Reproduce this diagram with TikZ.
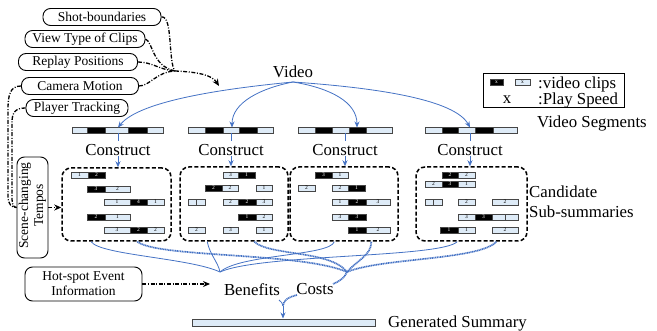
\documentclass[tikz,border=0pt]{standalone}
\usepackage{fontspec}
\setmainfont{Liberation Serif}
\usetikzlibrary{arrows.meta,calc}
\definecolor{bl}{RGB}{68,114,196}
\definecolor{lc}{RGB}{222,235,247}
\definecolor{cellline}{RGB}{70,70,70}
\tikzset{
  big/.style={font=\fontsize{16.8}{19}\selectfont, inner sep=0pt},
  lbox/.style={draw, line width=0.9pt, rounded corners=7.5pt, inner sep=0pt, font=\fontsize{13.5}{15}\selectfont, align=center},
  dd/.style={line width=1.3pt, dash pattern=on 4pt off 1.6pt on 1pt off 1.6pt},
  ddarrow/.style={dd, -{Stealth[length=7pt,width=6pt]}},
  dbox/.style={draw, line width=1.5pt, dash pattern=on 4pt off 2.2pt, rounded corners=9pt, inner sep=0pt},
  bline/.style={draw=bl, line width=0.8pt},
  bdot/.style={draw=bl, line width=1.7pt, dash pattern=on 1.1pt off 0.6pt},
  barrow/.style={bline, -{Stealth[length=6pt,width=5pt]}},
  cellL/.style={draw=cellline, line width=0.5pt, fill=lc},
  cellB/.style={draw=cellline, line width=0.5pt, fill=black},
  cellt/.style={font=\fontsize{5.5}{6}\selectfont, inner sep=0pt},
}
\newcommand\vcL[4]{\draw[cellL] (#1,#3-2.8) rectangle (#2,#3+2.8); \node[cellt] at ({(#1+#2)/2},#3) {#4};}
\newcommand\vcB[4]{\draw[cellB] (#1,#3-2.8) rectangle (#2,#3+2.8); \node[cellt,text=white] at ({(#1+#2)/2},#3) {#4};}
\begin{document}
\begin{tikzpicture}[x=1pt,y=-1pt]
\useasboundingbox (0,0) rectangle (657,331);

% ---------- left feature boxes ----------
\node[lbox, minimum width=118, minimum height=17] (sb) at (102,17) {Shot-boundaries};
\node[lbox, minimum width=120, minimum height=17] (vt) at (85,39) {View Type of Clips};
\node[lbox, minimum width=119, minimum height=17] (rp) at (78,62) {Replay Positions};
\node[lbox, minimum width=117, minimum height=17] (cm) at (80,86) {Camera Motion};
\node[lbox, minimum width=102, minimum height=17] (pt) at (77,108) {Player Tracking};
\node[lbox, minimum width=31, minimum height=101] (sc) at (32.5,207.5) {};
\node[rotate=90, align=center, font=\fontsize{13.5}{15}\selectfont, inner sep=0pt] (sct) at ([yshift=2]sc.center) {Scene-changing\\Tempos};
\node[lbox, minimum width=117, minimum height=34] (hot) at (83.5,284) {Hot-spot Event\\Information};

% ---------- video and segments ----------
\node[big] (video) at (293,71.5) {Video};
\coordinate (vs) at (293,82);

% legend
\node[draw, line width=0.7pt, minimum width=141, minimum height=34, inner sep=0pt] (leg) at (553.5,90) {};
\vcB{490}{503}{82}{x}
\vcL{515}{530}{82}{x}
\node[big, anchor=west] (l1) at (538,84) {:video clips};
\node[big] (lx) at (507,100) {x};
\node[big, anchor=west] (l2) at (538,100) {:Play Speed};

% segment bars
\vcL{72}{87}{130.5}{}\vcB{87}{105}{130.5}{}\vcL{105}{128}{130.5}{}\vcB{128}{147}{130.5}{}\vcL{147}{163}{130.5}{}
\vcL{188}{205}{130.5}{}\vcB{205}{223}{130.5}{}\vcL{223}{239}{130.5}{}\vcB{239}{257}{130.5}{}\vcL{257}{273}{130.5}{}
\vcL{298}{315}{130.5}{}\vcB{315}{332}{130.5}{}\vcL{332}{349}{130.5}{}\vcB{349}{366}{130.5}{}\vcL{366}{392}{130.5}{}
\vcL{425}{442}{130.5}{}\vcB{442}{458}{130.5}{}\vcL{458}{475}{130.5}{}\vcB{475}{493}{130.5}{}\vcL{493}{517}{130.5}{}
\coordinate (s1) at (118,127.5);
\coordinate (s2) at (232,127.5);
\coordinate (s3) at (357,127.5);
\coordinate (s4) at (470,127.5);
\node[big, anchor=west] (vseg) at (537,123) {Video Segments};

\draw[barrow] (vs) .. controls (230,88) and (140,100) .. (s1);
\draw[barrow] (vs) .. controls (262,88) and (232,102) .. (s2);
\draw[barrow] (vs) .. controls (330,88) and (357,102) .. (s3);
\draw[barrow] (vs) .. controls (380,88) and (455,100) .. (s4);

% construct
\node[big] (c1) at (118,150) {Construct};
\node[big] (c2) at (231,150) {Construct};
\node[big] (c3) at (345,150) {Construct};
\node[big] (c4) at (470,150) {Construct};
\draw[bline] (118,133.5) -- (118,141);
\draw[bline] (231,133.5) -- (231,141);
\draw[bline] (345,133.5) -- (345,141);
\draw[bline] (470,133.5) -- (470,141);

% candidate boxes
\node[dbox, minimum width=109, minimum height=73] (b1) at (116.5,204.5) {};
\node[dbox, minimum width=108, minimum height=74] (b2) at (234,204) {};
\node[dbox, minimum width=108, minimum height=74] (b3) at (344,204) {};
\node[dbox, minimum width=111, minimum height=74] (b4) at (471.5,204) {};
\draw[barrow] (c1.south) -- (c1.south |- b1.north);
\draw[barrow] (c2.south) -- (c2.south |- b2.north);
\draw[barrow] (c3.south) -- (c3.south |- b3.north);
\draw[barrow] (c4.south) -- (c4.south |- b4.north);
\node[big, anchor=west, align=left] (cand) at (529,202) {Candidate\\[1pt]Sub-summaries};

% box 1 clips
\vcL{71}{88}{175}{1}\vcB{88}{105}{175}{2}
\vcB{87}{105}{189}{3}\vcL{105}{130}{189}{2}
\vcL{104}{130}{202}{1}\vcB{130}{147}{202}{4}\vcL{147}{164}{202}{1}
\vcB{87}{105}{217}{2}\vcL{105}{130}{217}{1}
\vcL{104}{130}{230}{3}\vcB{130}{147}{230}{2}\vcL{147}{164}{230}{2}
% box 2 clips
\vcL{223}{238}{175}{3}\vcB{238}{255}{175}{1}
\vcB{205}{222}{188}{2}\vcL{222}{238}{188}{2}\vcL{256}{272}{188}{1}
\vcL{188}{196}{202}{}\vcL{196}{205}{202}{}\vcL{223}{238}{202}{2}\vcB{238}{256}{202}{2}\vcL{256}{272}{202}{3}
\vcB{238}{256}{217}{1}\vcL{256}{272}{217}{2}
\vcL{188}{205}{230}{2}\vcL{223}{238}{230}{3}\vcL{256}{272}{230}{1}
% box 3 clips
\vcB{315}{332}{175}{3}\vcL{332}{348}{175}{1}
\vcL{298}{315}{188}{2}\vcL{332}{348}{188}{2}\vcB{348}{365}{188}{1}
\vcL{332}{348}{202}{1}\vcB{348}{366}{202}{2}\vcL{366}{390}{202}{3}
\vcL{332}{348}{217}{3}\vcB{348}{366}{217}{3}
\vcB{348}{366}{230}{1}\vcL{366}{390}{230}{2}
% box 4 clips
\vcB{442}{458}{175}{2}\vcL{458}{475}{175}{2}
\vcL{425}{442}{184}{2}\vcB{442}{458}{184}{3}\vcL{458}{475}{184}{1}
\vcL{425}{433}{202}{}\vcL{433}{442}{202}{}\vcL{458}{475}{202}{2}\vcL{492}{518}{202}{2}
\vcL{458}{475}{217}{3}\vcB{475}{492}{217}{3}\vcL{492}{505}{217}{}\vcL{505}{518}{217}{}
\vcB{440}{458}{230}{1}\vcL{458}{475}{230}{1}\vcL{492}{518}{230}{2}

% ---------- feature arrows (dash-dot) ----------
\coordinate (m) at (175,71);
\coordinate (vtgt) at (219,86);
\draw[dd] (sb.east) .. controls (173,15) and (168,62) .. (m);
\draw[dd] (vt.east) .. controls (153,42) and (152,66) .. (m);
\draw[dd] (rp.east) .. controls (152,62) and (160,70) .. (m);
\draw[dd] (cm.east) .. controls (150,86) and (156,72) .. (m);
\draw[ddarrow] (m) .. controls (198,72) and (212,75) .. (vtgt);
\draw[dd] (cm.west) .. controls (10,86) and (8,95) .. (8,110) -- (8,196) .. controls (8,205) and (12,207.5) .. (sc.west);
\draw[dd] (pt.west) .. controls (16,108) and (12,112) .. (12,122) -- (12,199) .. controls (12,205) and (14,207.5) .. (sc.west);
\draw[ddarrow] (sc.east) -- (sc.east -| b1.west);

% ---------- benefits / costs ----------
\node[big] (ben) at (252,290) {Benefits};
\node[big] (cost) at (315,289) {Costs};
\coordinate (bj) at (220,272);
\coordinate (cj) at (347,272);
\coordinate (yj) at (283,306);

\draw[bline] ($(b1.south west)+(30,0)$) .. controls (100,255) and (190,258) .. (bj);
\draw[bline] ($(b2.south west)+(28,0)$) .. controls (210,255) and (218,262) .. (bj);
\draw[bline] ($(b3.south west)+(45,0)$) .. controls (330,256) and (240,254) .. (bj);
\draw[bline] ($(b4.south west)+(42,0)$) .. controls (440,258) and (260,254) .. (bj);

\draw[bdot] ($(b1.south west)+(76,0)$) .. controls (160,258) and (300,252) .. (cj);
\draw[bdot] ($(b2.south west)+(75,0)$) .. controls (270,256) and (330,250) .. (cj);
\draw[bdot] ($(b3.south west)+(82,0)$) .. controls (372,255) and (355,262) .. (cj);
\draw[bdot] ($(b4.south west)+(81,0)$) .. controls (480,260) and (380,258) .. (cj);
\draw[bdot] (cj) .. controls (345,278) and (338,282) .. (333,284);

\draw[ddarrow] (hot.east) -- (210,284);

% generated summary
\draw[cellL, line width=0.7pt] (192,319) rectangle (375,326);
\coordinate (gs) at (283,318.5);
\node[big, anchor=west] (gsum) at (388,323) {Generated Summary};
\draw[bline] (279,300) .. controls (281,302) and (283,303) .. (yj);
\draw[bdot] (297,295) .. controls (289,297) and (283,300) .. (yj);
\draw[barrow] (yj) -- (gs);
\end{tikzpicture}
\end{document}
